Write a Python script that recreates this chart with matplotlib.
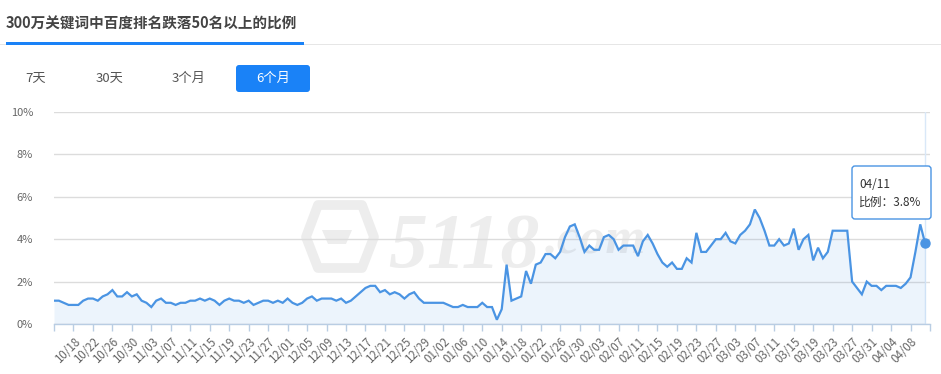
import matplotlib
matplotlib.use('Agg')
import matplotlib.pyplot as plt
from matplotlib.patches import FancyBboxPatch, Rectangle, Polygon
from matplotlib.transforms import IdentityTransform
import numpy as np
import pandas as pd

plt.rcParams['font.family'] = ['Noto Sans CJK SC', 'DejaVu Sans']

# ---------------- data ----------------
title = '300万关键词中百度排名跌落50名以上的比例'
range_buttons = ['7天', '30天', '3个月', '6个月']
active_button = '6个月'

# daily categories 10/14 .. 04/12 (last category has no value)
dates = pd.date_range('2018-10-14', '2019-04-12', freq='D').strftime('%m/%d').tolist()

ratio = [
    1.1, 1.1, 1.0, 0.9, 0.9, 0.9, 1.1, 1.2, 1.2, 1.1,
    1.3, 1.4, 1.6, 1.3, 1.3, 1.5, 1.3, 1.4, 1.1, 1.0,
    0.8, 1.1, 1.2, 1.0, 1.0, 0.9, 1.0, 1.0, 1.1, 1.1,
    1.2, 1.1, 1.2, 1.1, 0.9, 1.1, 1.2, 1.1, 1.1, 1.0,
    1.1, 0.9, 1.0, 1.1, 1.1, 1.0, 1.1, 1.0, 1.2, 1.0,
    0.9, 1.0, 1.2, 1.3, 1.1, 1.2, 1.2, 1.2, 1.1, 1.2,
    1.0, 1.1, 1.3, 1.5, 1.7, 1.8, 1.8, 1.5, 1.6, 1.4,
    1.5, 1.4, 1.2, 1.4, 1.5, 1.2, 1.0, 1.0, 1.0, 1.0,
    1.0, 0.9, 0.8, 0.8, 0.9, 0.8, 0.8, 0.8, 1.0, 0.8,
    0.8, 0.2, 0.7, 2.8, 1.1, 1.2, 1.3, 2.5, 1.9, 2.8,
    2.9, 3.3, 3.3, 3.1, 3.4, 4.1, 4.6, 4.7, 4.1, 3.4,
    3.7, 3.5, 3.5, 4.1, 4.2, 4.0, 3.5, 3.7, 3.7, 3.7,
    3.2, 3.9, 4.2, 3.8, 3.3, 2.9, 2.7, 2.9, 2.6, 2.6,
    3.1, 2.9, 4.3, 3.4, 3.4, 3.7, 4.0, 4.0, 4.3, 3.9,
    3.8, 4.2, 4.4, 4.7, 5.4, 5.0, 4.4, 3.7, 3.7, 4.0,
    3.7, 3.8, 4.5, 3.5, 4.0, 4.2, 3.0, 3.6, 3.1, 3.4,
    4.4, 4.4, 4.4, 4.4, 2.0, 1.7, 1.4, 2.0, 1.8, 1.8,
    1.6, 1.8, 1.8, 1.8, 1.7, 1.9, 2.2, 3.4, 4.7, 3.8,
]
series_name = '比例'

y_ticks = [0, 2, 4, 6, 8, 10]
y_tick_labels = ['0%', '2%', '4%', '6%', '8%', '10%']
tick_step = 4

# ---------------- styling ----------------
W, H = 941, 374
BLUE = '#4a94e3'
BTN_BLUE = '#1a82f7'
AXIS_C = '#b9cde3'
WM = '#ededed'

fig = plt.figure(figsize=(W / 100, H / 100), dpi=100)
fig.patch.set_facecolor('white')

def px(x0, y0, w, h):
    return [x0 / W, 1 - (y0 + h) / H, w / W, h / H]

ax = fig.add_axes(px(54, 112, 876, 212))
ax.patch.set_alpha(0)

x = np.arange(len(ratio))
ax.fill_between(x, ratio, 0, color=BLUE, alpha=0.10, lw=0, zorder=2)
ax.plot(x, ratio, color=BLUE, lw=1.6, zorder=3, solid_joinstyle='miter')
ax.plot(x[-1], ratio[-1], 'o', ms=6.5, color=BLUE, zorder=4)
ax.axvline(x[-1], color='#d9e8f8', lw=1, zorder=1)

ax.set_xlim(0, len(dates) - 1)
ax.set_ylim(0, 10)
ax.set_yticks(y_ticks)
ax.set_yticklabels(y_tick_labels)
ax.grid(axis='y', color='#dcdcdc', lw=1, zorder=0)
ax.set_axisbelow(True)
for s in ['top', 'right', 'left']:
    ax.spines[s].set_visible(False)
ax.spines['bottom'].set_color(AXIS_C)
ax.spines['bottom'].set_linewidth(1)
ax.tick_params(axis='y', length=0, pad=15, labelsize=8, labelcolor='#666666')

xt = list(range(0, len(dates), tick_step))
xl = ['' if (i == 0 or i == len(dates) - 1) else dates[i] for i in xt]
ax.set_xticks(xt)
ax.set_xticklabels(xl, rotation=45, ha='right', va='top', rotation_mode='anchor')
ax.tick_params(axis='x', length=5, width=1, color=AXIS_C, labelsize=8.3,
               labelcolor='#666666', pad=3)

# watermark (logo + text)
hexpts = [(318, H - 205), (362, H - 205), (374, H - 237), (362, H - 268),
          (318, H - 268), (306, H - 237)]
fig.add_artist(Polygon(hexpts, closed=True, transform=IdentityTransform(),
                       facecolor='none', edgecolor=WM, lw=7, zorder=-1,
                       joinstyle='round'))
fig.add_artist(Polygon([(322, H - 230), (352, H - 230), (346, H - 244),
                        (328, H - 244)], closed=True,
                       transform=IdentityTransform(), facecolor=WM,
                       edgecolor='none', zorder=-1))
fig.text(388 / W, 1 - 267 / H, '5118', fontsize=56, family='Liberation Serif',
         style='italic', fontweight='bold', color=WM, zorder=-1, va='baseline')
fig.text(545 / W, 1 - 253 / H, '.com', fontsize=37, family='Liberation Serif',
         style='italic', fontweight='bold', color=WM, zorder=-1, va='baseline')

# title and underline
fig.text(6 / W, 1 - 24 / H, title, fontsize=10.5, fontweight='bold',
         color='#444444', va='center', ha='left')
fig.add_artist(Rectangle((0, H - 45), W, 1, transform=IdentityTransform(),
                         color='#e6e6e6', lw=0))
fig.add_artist(Rectangle((6, H - 45), 298, 3, transform=IdentityTransform(),
                         color=BTN_BLUE, lw=0))

# range buttons
btn_cx = [36, 110, 189, 273]
for lab, cx in zip(range_buttons, btn_cx):
    if lab == active_button:
        fig.add_artist(FancyBboxPatch((236, H - 92), 74, 27,
                                      boxstyle='round,pad=0,rounding_size=3',
                                      transform=IdentityTransform(),
                                      facecolor=BTN_BLUE, edgecolor='none'))
        col = 'white'
    else:
        col = '#555555'
    fig.text(cx / W, 1 - 78 / H, lab, fontsize=9.5, color=col,
             ha='center', va='center')

# tooltip
fig.add_artist(FancyBboxPatch((852, H - 219), 79, 53,
                              boxstyle='round,pad=0,rounding_size=3',
                              transform=IdentityTransform(),
                              facecolor='white', edgecolor=BLUE, lw=1, zorder=10))
fig.text(859 / W, 1 - 184 / H, dates[len(ratio) - 1], fontsize=8.5,
         color='#333333', va='center', zorder=11)
fig.text(859 / W, 1 - 202 / H, f'{series_name}：{ratio[-1]}%', fontsize=8.5,
         color='#333333', va='center', zorder=11)

fig.savefig('out.png', dpi=100)
